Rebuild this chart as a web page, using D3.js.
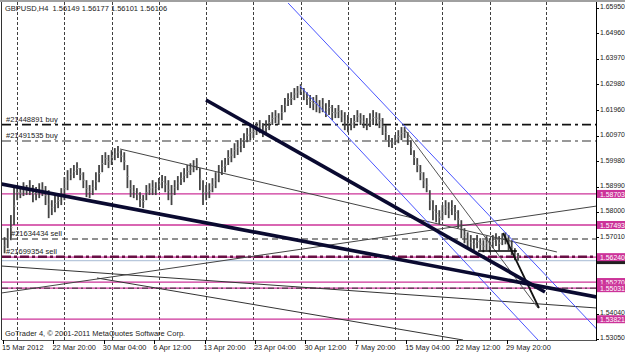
<!DOCTYPE html>
<html><head><meta charset="utf-8">
<script src="https://cdn.jsdelivr.net/npm/d3@7"></script>
<style>
html,body{margin:0;padding:0;background:#fff;}
svg{display:block;font-family:"Liberation Sans",Arial,sans-serif;}
</style></head><body>
<svg id="c" width="625" height="353"></svg>
<script>
// ---------- data ----------
const symbol = "GBPUSD,H4";
const quote = ["1.56149", "1.56177", "1.56101", "1.56106"];
const copyright = "GoTrader 4, \u00a9 2001-2011 MetaQuotes Software Corp.";

// time axis (H4 bar index)
const timeLabels = ["15 Mar 2012","22 Mar 20:00","30 Mar 04:00","6 Apr 12:00","13 Apr 20:00",
  "23 Apr 04:00","30 Apr 12:00","7 May 20:00","15 May 04:00","22 May 12:00","29 May 20:00"];
const timeLabelBars = [0, 32, 64, 96, 128, 160, 192, 224, 256, 288, 320];
const weekGridBars = [9, 39, 69, 99, 129, 159, 189, 219, 249, 279, 309, 345];

// price axis
const priceTicks = [1.65950,1.64960,1.63970,1.62980,1.61960,1.60970,1.59980,1.58990,
  1.58000,1.57010,1.56020,1.55030,1.54040,1.53050];

// price bars (each = 8 hours, i.e. two H4 bars)
const barHighs = [1.5702,1.5737,1.5788,1.5897,1.5905,1.5893,1.5916,1.5905,1.5924,1.5905,
 1.5897,1.5912,1.5916,1.5901,1.5885,1.5846,1.5866,1.5873,1.5893,1.5936,
 1.5963,1.5971,1.5983,1.5994,1.5971,1.5955,1.5924,1.5905,1.5924,1.5955,
 1.5983,1.6022,1.6033,1.6022,1.6041,1.6049,1.6057,1.6041,1.6033,1.5983,
 1.5924,1.5905,1.5893,1.5877,1.5866,1.5905,1.5912,1.5924,1.5916,1.5932,
 1.5944,1.5940,1.5924,1.5905,1.5924,1.5940,1.5955,1.5971,1.5983,1.5990,
 1.6002,1.6010,1.5971,1.5924,1.5905,1.5912,1.5932,1.5955,1.5983,1.6002,
 1.6010,1.6041,1.6049,1.6068,1.6080,1.6088,1.6107,1.6127,1.6139,1.6139,
 1.6150,1.6158,1.6146,1.6158,1.6178,1.6189,1.6197,1.6185,1.6217,1.6244,
 1.6263,1.6267,1.6283,1.6291,1.6298,1.6283,1.6267,1.6256,1.6248,1.6256,
 1.6236,1.6244,1.6224,1.6236,1.6217,1.6205,1.6217,1.6197,1.6189,1.6178,
 1.6166,1.6178,1.6197,1.6185,1.6178,1.6166,1.6185,1.6197,1.6189,1.6185,
 1.6166,1.6139,1.6100,1.6088,1.6100,1.6119,1.6131,1.6131,1.6111,1.6080,
 1.6041,1.6010,1.5983,1.5955,1.5932,1.5885,1.5846,1.5827,1.5807,1.5827,
 1.5846,1.5838,1.5846,1.5827,1.5807,1.5768,1.5737,1.5721,1.5710,1.5698,
 1.5710,1.5698,1.5690,1.5706,1.5698,1.5710,1.5717,1.5706,1.5717,1.5721,
 1.5710,1.5690,1.5659,1.5640];
const barLows = [1.5639,1.5659,1.5690,1.5749,1.5846,1.5854,1.5862,1.5866,1.5866,1.5838,
 1.5846,1.5854,1.5862,1.5827,1.5776,1.5788,1.5799,1.5815,1.5827,1.5846,
 1.5885,1.5924,1.5932,1.5944,1.5924,1.5893,1.5858,1.5854,1.5866,1.5885,
 1.5916,1.5955,1.5983,1.5971,1.5983,1.6002,1.6010,1.5994,1.5963,1.5893,
 1.5858,1.5854,1.5846,1.5819,1.5815,1.5846,1.5866,1.5866,1.5866,1.5885,
 1.5893,1.5877,1.5846,1.5827,1.5866,1.5885,1.5905,1.5916,1.5932,1.5944,
 1.5955,1.5963,1.5885,1.5827,1.5846,1.5854,1.5877,1.5893,1.5916,1.5944,
 1.5955,1.5983,1.5994,1.6010,1.6022,1.6033,1.6049,1.6072,1.6080,1.6088,
 1.6100,1.6107,1.6092,1.6100,1.6119,1.6139,1.6146,1.6139,1.6158,1.6189,
 1.6213,1.6217,1.6236,1.6244,1.6256,1.6236,1.6217,1.6205,1.6197,1.6189,
 1.6185,1.6189,1.6170,1.6178,1.6158,1.6166,1.6166,1.6150,1.6119,1.6111,
 1.6119,1.6127,1.6150,1.6139,1.6127,1.6119,1.6131,1.6139,1.6142,1.6127,
 1.6100,1.6080,1.6053,1.6049,1.6061,1.6068,1.6080,1.6088,1.6061,1.6022,
 1.5983,1.5955,1.5924,1.5893,1.5877,1.5807,1.5768,1.5760,1.5752,1.5768,
 1.5788,1.5776,1.5788,1.5768,1.5737,1.5698,1.5678,1.5659,1.5651,1.5651,
 1.5659,1.5651,1.5643,1.5651,1.5643,1.5659,1.5667,1.5651,1.5671,1.5674,
 1.5651,1.5632,1.5612,1.5610];

// horizontal levels (magenta) and their labels
const levelPrices = [1.58703, 1.57493, 1.56240, 1.55270, 1.55031, 1.53821];
const levelLabels = ["1.58703", "1.57493", "1.56240", "1.55270", "1.55031", "1.53821"];

// orders
const orderNames = ["#21448891 buy", "#21491535 buy", "#21634434 sell", "#21699354 sell"];
const orderPrices = [1.61402, 1.60767, 1.56948, 1.56258];
const stopPrice = 1.55031;
const bidPrice = 1.56106;

// trend lines: [barFrom, priceFrom, barTo, priceTo]
const trendThickLow  = [-1, 1.59091, 377.1, 1.54687];
const trendThickHigh = [128.9, 1.62365, 344.1, 1.54882];
const trendSteep     = [317.5, 1.57181, 340.3, 1.54258];
const trendThinTop   = [74.3, 1.60455, 351.7, 1.56441];
const trendThinA     = [-1, 1.55895, 377.1, 1.54258];
const trendThinB     = [-1, 1.54843, 377.1, 1.58233];
const trendThinC     = [59.7, 1.55427, 292.1, 1.53011];
const channelUpper   = [181.0, 1.66145, 383.5, 1.53011];
const channelLower   = [188.6, 1.62910, 339.7, 1.53011];
const trendGray      = [255.2, 1.61195, 339.7, 1.54258];
const supportShort   = [301.6, 1.56480, 326.3, 1.56480];

// ---------- layout ----------
const W = 625, H = 353;
const plot = {l: 2, r: 596, t: 2, b: 340};
const x = d3.scaleLinear().domain([0, 320]).range([3, 507]);
const y = d3.scaleLinear().domain([1.5305, 1.6595]).range([339, 8]);
const MAG = "#cc3399";
const FS = 6.9;

const svg = d3.select("#c");
svg.append("rect").attr("width", W).attr("height", H).attr("fill", "#fff");
svg.append("defs").append("clipPath").attr("id", "pc")
  .append("rect").attr("x", plot.l).attr("y", plot.t)
  .attr("width", plot.r - plot.l).attr("height", plot.b - plot.t);
const g = svg.append("g").attr("clip-path", "url(#pc)");

// weekly grid
g.selectAll("line.grid").data(weekGridBars).join("line")
  .attr("x1", d => Math.round(x(d)) + 0.5).attr("x2", d => Math.round(x(d)) + 0.5)
  .attr("y1", plot.t).attr("y2", plot.b)
  .attr("stroke", "#000").attr("stroke-width", 1).attr("stroke-dasharray", "3,2")
  .attr("opacity", 0.75);

// magenta levels
g.selectAll("line.lvl").data(levelPrices).join("line")
  .attr("x1", plot.l).attr("x2", plot.r)
  .attr("y1", d => y(d)).attr("y2", d => y(d))
  .attr("stroke", MAG).attr("stroke-width", 1.3);

// stop line dashed over 1.55031
g.append("line").attr("x1", plot.l).attr("x2", plot.r)
  .attr("y1", y(stopPrice)).attr("y2", y(stopPrice))
  .attr("stroke", "#333").attr("stroke-width", 1).attr("stroke-dasharray", "6,3,2,3");

// bid line
g.append("line").attr("x1", plot.l).attr("x2", plot.r)
  .attr("y1", y(bidPrice)).attr("y2", y(bidPrice))
  .attr("stroke", "#b8c8dc").attr("stroke-width", 1.2);

// order lines
const orderStyle = [
  {c: "#111", w: 1.8, d: "9,4,3,4"},
  {c: "#333", w: 1.1, d: "9,4,3,4"},
  {c: "#222", w: 1.1, d: "6,4"},
  {c: "#6a0f45", w: 2.6, d: "9,3,3,3"}
];
orderPrices.forEach((p, i) => {
  const s = orderStyle[i];
  g.append("line").attr("x1", plot.l).attr("x2", plot.r)
    .attr("y1", y(p)).attr("y2", y(p))
    .attr("stroke", s.c).attr("stroke-width", s.w).attr("stroke-dasharray", s.d);
});

// price bars
const bars = barHighs.map((h, k) => ({i: 2 * k + 1, h, l: barLows[k]}));
g.selectAll("line.bar").data(bars).join("line")
  .attr("x1", d => x(d.i)).attr("x2", d => x(d.i))
  .attr("y1", d => y(d.h)).attr("y2", d => y(d.l))
  .attr("stroke", "#444").attr("stroke-width", 1.8);
g.selectAll("line.tick").data(bars).join("line")
  .attr("x1", d => x(d.i)).attr("x2", d => x(d.i) + 1.6)
  .attr("y1", d => y((d.h + d.l) / 2)).attr("y2", d => y((d.h + d.l) / 2))
  .attr("stroke", "#999").attr("stroke-width", 1);

// trend lines
function tl(a, color, width) {
  g.append("line").attr("x1", x(a[0])).attr("y1", y(a[1]))
    .attr("x2", x(a[2])).attr("y2", y(a[3]))
    .attr("stroke", color).attr("stroke-width", width);
}
tl(trendThinA, "#333", 1);
tl(trendThinB, "#444", 1);
tl(trendThinC, "#333", 1);
tl(trendThinTop, "#444", 1);
tl(trendGray, "#555", 1);
tl(channelUpper, "#4a55ff", 1);
tl(channelLower, "#4a55ff", 1);
tl(supportShort, "#000", 1.3);
tl(trendSteep, "#111", 1.8);
tl(trendThickLow, "#0a0a30", 3.6);
tl(trendThickHigh, "#0a0a30", 3.6);

// order labels
orderNames.forEach((n, i) => {
  g.append("text").attr("x", i === 2 ? 11 : 6).attr("y", y(orderPrices[i]) - 3)
    .attr("font-size", 7.5).attr("fill", "#222").text(n);
});

// frame
svg.append("line").attr("x1", 0).attr("x2", W).attr("y1", 1).attr("y2", 1)
  .attr("stroke", "#a0a0a0").attr("stroke-width", 2);
svg.append("line").attr("x1", plot.l - 0.5).attr("x2", plot.l - 0.5).attr("y1", plot.t).attr("y2", plot.b)
  .attr("stroke", "#333").attr("stroke-width", 1);
svg.append("line").attr("x1", plot.l).attr("x2", plot.r).attr("y1", plot.b + 0.5).attr("y2", plot.b + 0.5)
  .attr("stroke", "#555").attr("stroke-width", 1);
svg.append("line").attr("x1", plot.r + 0.5).attr("x2", plot.r + 0.5).attr("y1", plot.t).attr("y2", plot.b + 1)
  .attr("stroke", "#000").attr("stroke-width", 1);

// price axis (labels hidden under level boxes are not drawn)
const pa = svg.append("g");
pa.selectAll("line").data(priceTicks).join("line")
  .attr("x1", plot.r).attr("x2", plot.r + 3)
  .attr("y1", d => Math.round(y(d)) + 0.5).attr("y2", d => Math.round(y(d)) + 0.5)
  .attr("stroke", "#000");
const visibleTicks = priceTicks.filter(t =>
  !levelPrices.some(p => Math.abs(y(p) - y(t)) < 5.8 && y(p) < y(t) + 1) &&
  !levelPrices.some(p => Math.abs(y(p) - y(t)) < 2));
pa.selectAll("text").data(visibleTicks).join("text")
  .attr("x", plot.r + 4).attr("y", d => y(d) + 1.4)
  .attr("font-size", FS).attr("fill", "#222").text(d => d.toFixed(5));

// bid marker strip (mostly hidden under level boxes)
svg.append("rect").attr("x", plot.r + 1).attr("y", y(bidPrice) - 3.5).attr("width", 30).attr("height", 7)
  .attr("fill", "#202020");

// level labels (magenta boxes)
levelPrices.forEach((p, i) => {
  const yy = y(p);
  svg.append("rect").attr("x", plot.r + 1).attr("y", yy - 4).attr("width", 30).attr("height", 8)
    .attr("fill", MAG);
  svg.append("text").attr("x", plot.r + 4).attr("y", yy + 2.8)
    .attr("font-size", FS).attr("fill", "#fff").text(levelLabels[i]);
});

// time axis
const ta = svg.append("g");
ta.selectAll("line").data(timeLabelBars).join("line")
  .attr("x1", d => Math.round(x(d)) + 0.5).attr("x2", d => Math.round(x(d)) + 0.5)
  .attr("y1", plot.b).attr("y2", plot.b + 4).attr("stroke", "#000");
ta.selectAll("text").data(timeLabels).join("text")
  .attr("x", (d, i) => x(timeLabelBars[i]) - 1).attr("y", plot.b + 9.5)
  .attr("font-size", 7.4).attr("fill", "#222").text(d => d);

// header & copyright
svg.append("text").attr("x", 5).attr("y", 10.5).attr("font-size", 7.5).attr("fill", "#222")
  .attr("xml:space", "preserve").text(symbol + "  " + quote.join(" "));
svg.append("text").attr("x", 5).attr("y", 336).attr("font-size", 7.5).attr("fill", "#222")
  .text(copyright);
</script>
</body></html>
